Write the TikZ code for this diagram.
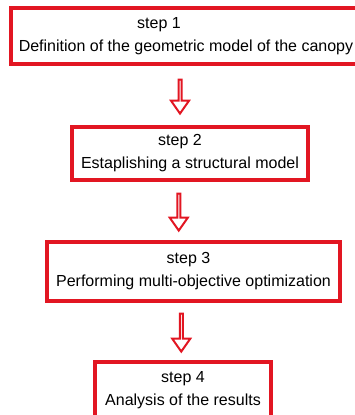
\documentclass[tikz,border=0pt]{standalone}
\usepackage{fontspec}
\setmainfont{Liberation Sans}
\usepackage{xcolor}
\usetikzlibrary{positioning, shapes.arrows, calc}

\definecolor{stepred}{RGB}{226,22,34}

\begin{document}
\begin{tikzpicture}[
    x=1pt, y=-1pt,
    stepbox/.style={rectangle, draw=stepred, line width=4pt, fill=white, align=center, inner sep=0pt, outer sep=0pt, font=\fontsize{16}{23}\selectfont},
    downarrow/.style={single arrow, draw=stepred, line width=2pt, fill=white, shape border rotate=270, minimum width=18pt, single arrow head extend=5pt, single arrow head indent=0pt, single arrow tip angle=70, inner sep=0pt},
]
\useasboundingbox (0,0) rectangle (354,415);

\node[stepbox, minimum width=350pt, minimum height=56pt] (s1) at (186,36) {step 1\hspace*{54pt}\\Definition of the geometric model of the canopy};
\node[stepbox, minimum width=236pt, minimum height=53pt, below=63pt of s1, xshift=4pt] (s2) {step 2\hspace*{20pt}\\Estaplishing a structural model};
\node[stepbox, minimum width=293pt, minimum height=59pt, below=62pt of s2, xshift=3.5pt] (s3) {step 3\hspace*{10pt}\\Performing multi-objective optimization};
\node[stepbox, minimum width=176pt, minimum height=56pt, below=61pt of s3, xshift=-10.5pt] (s4) {step 4\\Analysis of the results};

% block arrows between the steps
\node[downarrow, minimum height=34pt] (a1) at ($(s1.south)!0.5!(s2.north) + (-8,0)$) {};
\node[downarrow, minimum height=37pt] (a2) at ($(s2.south)!0.5!(s3.north) + (-13,0)$) {};
\node[downarrow, minimum height=38pt] (a3) at ($(s3.south)!0.5!(s4.north) + (-7,0)$) {};
\end{tikzpicture}
\end{document}
